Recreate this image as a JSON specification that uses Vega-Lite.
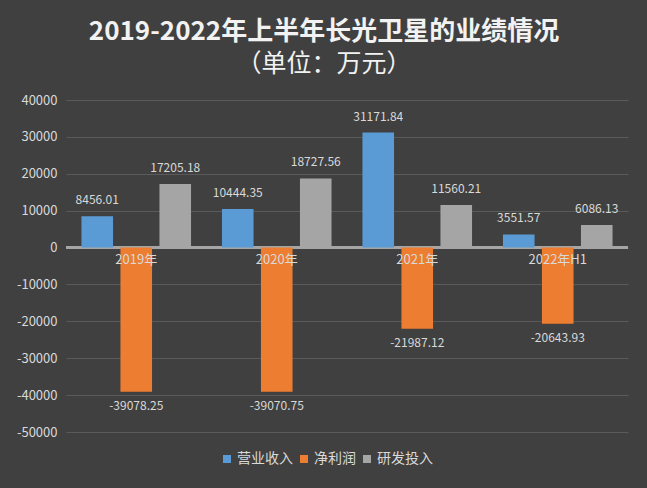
{
  "$schema": "https://vega.github.io/schema/vega-lite/v6.json",
  "autosize": "none",
  "width": 562,
  "height": 332,
  "padding": {"left": 66, "top": 100, "right": 19, "bottom": 56},
  "background": "#404040",
  "title": {
    "text": "2019-2022年上半年长光卫星的业绩情况",
    "subtitle": "（单位：万元）",
    "font": "Noto Sans CJK SC",
    "fontSize": 26,
    "fontWeight": "bold",
    "color": "#f2f2f2",
    "subtitleFont": "Noto Sans CJK SC",
    "subtitleFontSize": 25,
    "subtitleFontWeight": "normal",
    "subtitleColor": "#f2f2f2",
    "subtitlePadding": 7,
    "anchor": "middle",
    "dx": -23,
    "offset": 17
  },
  "data": {
    "values": [
      {"year": "2019年", "series": "营业收入", "value": 8456.01},
      {"year": "2019年", "series": "净利润", "value": -39078.25},
      {"year": "2019年", "series": "研发投入", "value": 17205.18},
      {"year": "2020年", "series": "营业收入", "value": 10444.35},
      {"year": "2020年", "series": "净利润", "value": -39070.75},
      {"year": "2020年", "series": "研发投入", "value": 18727.56},
      {"year": "2021年", "series": "营业收入", "value": 31171.84},
      {"year": "2021年", "series": "净利润", "value": -21987.12},
      {"year": "2021年", "series": "研发投入", "value": 11560.21},
      {"year": "2022年H1", "series": "营业收入", "value": 3551.57},
      {"year": "2022年H1", "series": "净利润", "value": -20643.93},
      {"year": "2022年H1", "series": "研发投入", "value": 6086.13}
    ]
  },
  "encoding": {
    "x": {
      "field": "year",
      "type": "nominal",
      "sort": null,
      "scale": {"paddingInner": 0.22, "paddingOuter": 0.11},
      "axis": {
        "title": null,
        "labelAngle": 0,
        "domain": false,
        "ticks": false,
        "offset": -184,
        "labelPadding": 5,
        "labelFontSize": 13,
        "labelColor": "#d9d9d9",
        "labelFont": "Noto Sans CJK SC",
        "zindex": 2
      }
    },
    "xOffset": {
      "field": "series",
      "type": "nominal",
      "sort": ["营业收入", "净利润", "研发投入"],
      "scale": {"paddingInner": 0.19}
    },
    "y": {
      "field": "value",
      "type": "quantitative",
      "scale": {"domain": [-50000, 40000], "nice": false},
      "axis": {
        "title": null,
        "values": [-50000, -40000, -30000, -20000, -10000, 0, 10000, 20000, 30000, 40000],
        "labelExpr": "datum.value + ''",
        "labelOverlap": false,
        "domain": false,
        "ticks": false,
        "labelPadding": 9,
        "labelFontSize": 13,
        "labelColor": "#d9d9d9",
        "labelFont": "Noto Sans CJK SC",
        "gridColor": "#5a5a5a",
        "gridWidth": 1
      }
    }
  },
  "layer": [
    {
      "mark": {"type": "rule", "color": "#a6a6a6", "strokeWidth": 2},
      "encoding": {"y": {"datum": 0, "type": "quantitative"}, "x": null, "xOffset": null}
    },
    {
      "mark": {"type": "bar"},
      "encoding": {
        "color": {
          "field": "series",
          "type": "nominal",
          "sort": ["营业收入", "净利润", "研发投入"],
          "scale": {"range": ["#5b9bd5", "#ed7d31", "#a5a5a5"]},
          "legend": {
            "title": null,
            "orient": "none",
            "legendX": 154,
            "legendY": 352,
            "direction": "horizontal",
            "symbolType": "square",
            "symbolSize": 64,
            "symbolStrokeWidth": 0,
            "labelFontSize": 14,
            "labelColor": "#d9d9d9",
            "labelFont": "Noto Sans CJK SC",
            "columnPadding": 4,
            "labelOffset": 3
          }
        }
      }
    },
    {
      "transform": [{"filter": "datum.value >= 0"}],
      "mark": {"type": "text", "baseline": "bottom", "dy": -9, "fontSize": 12, "color": "#d9d9d9", "font": "Noto Sans CJK SC", "text": {"expr": "datum.value + ''"}}
    },
    {
      "transform": [{"filter": "datum.value < 0"}],
      "mark": {"type": "text", "baseline": "top", "dy": 9, "fontSize": 12, "color": "#d9d9d9", "font": "Noto Sans CJK SC", "text": {"expr": "datum.value + ''"}}
    }
  ],
  "config": {"view": {"stroke": null}}
}
